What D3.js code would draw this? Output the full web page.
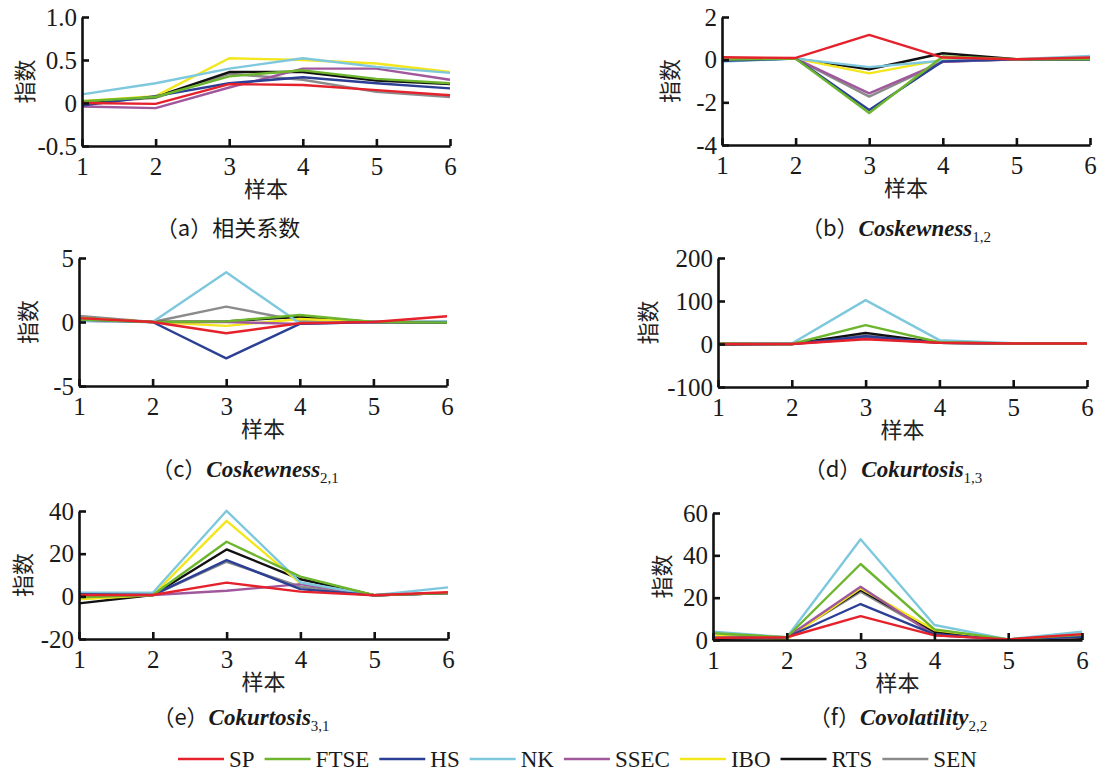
<!DOCTYPE html>
<html>
<head>
<meta charset="utf-8">
<script src="https://cdn.jsdelivr.net/npm/d3@7"></script>
<style>
body { margin: 0; background: #fff; }
svg { display: block; }
.domain { stroke: #111; stroke-width: 2.6; }
.tick line { stroke: #111; stroke-width: 2.6; }
</style>
</head>
<body>
<div id="chart"></div>
<script>
var series = ["SP", "FTSE", "HS", "NK", "SSEC", "IBO", "RTS", "SEN"];
var colors = ["#e5212b", "#6cb52d", "#2b3f95", "#7ec8de", "#a0589c", "#f3e61c", "#111111", "#8b8b8b"];
var samples = [1, 2, 3, 4, 5, 6];

// one row per series, same order as `series`
var corr = [
	[0.00, -0.01, 0.22, 0.21, 0.15, 0.09],
	[0.02, 0.07, 0.31, 0.38, 0.28, 0.23],
	[-0.03, 0.08, 0.23, 0.30, 0.23, 0.17],
	[0.10, 0.23, 0.40, 0.52, 0.42, 0.35],
	[-0.04, -0.06, 0.18, 0.40, 0.40, 0.27],
	[0.02, 0.08, 0.52, 0.50, 0.46, 0.36],
	[0.01, 0.07, 0.36, 0.36, 0.26, 0.22],
	[0.00, 0.06, 0.34, 0.27, 0.13, 0.07]
];
var cosk12 = [
	[0.11, 0.08, 1.16, 0.10, 0.02, 0.10],
	[0.00, 0.05, -2.50, 0.15, 0.02, 0.02],
	[-0.05, 0.05, -2.36, -0.08, 0.02, 0.00],
	[-0.09, 0.05, -0.35, -0.05, 0.02, 0.17],
	[-0.02, 0.05, -1.58, -0.10, 0.02, 0.00],
	[0.05, 0.05, -0.64, 0.00, 0.02, 0.05],
	[0.00, 0.05, -0.45, 0.30, 0.02, 0.00],
	[-0.03, 0.05, -1.73, -0.10, 0.02, 0.00]
];
var cosk21 = [
	[0.30, 0.00, -0.88, -0.10, 0.00, 0.45],
	[0.20, 0.00, 0.05, 0.55, 0.00, -0.05],
	[0.20, 0.00, -2.84, -0.15, 0.00, -0.05],
	[0.10, 0.00, 3.88, -0.10, 0.00, 0.05],
	[0.10, 0.00, 0.00, -0.15, 0.00, 0.00],
	[0.30, 0.00, -0.30, 0.23, 0.00, 0.00],
	[0.30, 0.00, 0.05, 0.40, 0.00, -0.05],
	[0.47, 0.00, 1.20, 0.10, 0.00, 0.00]
];
var cokurt13 = [
	[0, 0, 11, 3, 1, 1],
	[1, 0, 44, 4, 1, 1],
	[0, 0, 18, 3, 1, 1],
	[1, 1, 102, 9, 2, 1],
	[0, 0, 13, 3, 1, 1],
	[0, 0, 15, 3, 1, 1],
	[-2, 0, 26, 3, 1, 1],
	[1, 0, 21, 3, 1, 1]
];
var cokurt31 = [
	[0.6, 0.6, 6.4, 2.2, 0.5, 1.9],
	[-0.5, 0.6, 25.6, 9.2, 0.5, 1.5],
	[1.0, 0.6, 17.0, 3.4, 0.5, 1.5],
	[1.7, 1.7, 40.1, 6.5, 0.5, 4.2],
	[0.0, 0.6, 2.6, 5.7, 0.5, 1.5],
	[-1.4, 0.6, 35.4, 6.1, 0.5, 1.5],
	[-3.3, 0.6, 22.0, 8.0, 0.5, 1.5],
	[-1.0, 0.6, 16.2, 4.5, 0.5, 1.5]
];
var covol22 = [
	[1.0, 1.3, 11.3, 2.2, 0.3, 2.8],
	[3.2, 1.3, 35.9, 5.0, 0.3, 2.5],
	[1.0, 1.3, 17.0, 2.7, 0.3, 1.5],
	[3.9, 1.3, 47.6, 7.1, 0.3, 3.9],
	[1.0, 1.3, 25.2, 2.2, 0.3, 1.5],
	[2.0, 0.3, 24.4, 4.7, 0.3, 1.5],
	[0.5, 1.3, 23.6, 3.9, 0.3, 0.5],
	[1.9, 1.3, 22.8, 3.1, 0.3, 1.5]
];

var yTicksA = [-0.5, 0, 0.5, 1.0], yLabelsA = ["-0.5", "0", "0.5", "1.0"];
var yTicksB = [-4, -2, 0, 2], yLabelsB = ["-4", "-2", "0", "2"];
var yTicksC = [-5, 0, 5], yLabelsC = ["-5", "0", "5"];
var yTicksD = [-100, 0, 100, 200], yLabelsD = ["-100", "0", "100", "200"];
var yTicksE = [-20, 0, 20, 40], yLabelsE = ["-20", "0", "20", "40"];
var yTicksF = [0, 20, 40, 60], yLabelsF = ["0", "20", "40", "60"];

var tags = ["a", "b", "c", "d", "e", "f"];
var names = ["相关系数", "Coskewness", "Coskewness", "Cokurtosis", "Cokurtosis", "Covolatility"];
var subs = ["", "1,2", "2,1", "1,3", "3,1", "2,2"];

var W = 1099, H = 773;
var svg = d3.select("#chart").append("svg")
	.attr("width", W)
	.attr("height", H);

// panel boxes in pixels: left, right, top, bottom, title offset, caption centre
var panels = [
	{ data: corr, ticks: yTicksA, labels: yLabelsA, x0: 82, x1: 450, y0: 17, y1: 146, ty: 57, cx: 228, cy: 230 },
	{ data: cosk12, ticks: yTicksB, labels: yLabelsB, x0: 722, x1: 1090, y0: 17, y1: 145, ty: 52, cx: 896, cy: 230 },
	{ data: cosk21, ticks: yTicksC, labels: yLabelsC, x0: 79, x1: 447, y0: 258, y1: 386, ty: 51, cx: 245, cy: 471 },
	{ data: cokurt13, ticks: yTicksD, labels: yLabelsD, x0: 718, x1: 1087, y0: 258, y1: 387, ty: 70, cx: 893, cy: 471 },
	{ data: cokurt31, ticks: yTicksE, labels: yLabelsE, x0: 79, x1: 448, y0: 511, y1: 639, ty: 56, cx: 241, cy: 719 },
	{ data: covol22, ticks: yTicksF, labels: yLabelsF, x0: 713, x1: 1082, y0: 513, y1: 640, ty: 51, cx: 898, cy: 719 }
];

var cjk = "Noto Sans CJK SC";
var serif = "Liberation Serif, Times New Roman, Tinos, DejaVu Serif, serif";

panels.forEach(function(p, k) {
	var x = d3.scaleLinear().domain([1, 6]).range([p.x0, p.x1]);
	var y = d3.scaleLinear().domain([p.ticks[0], p.ticks[p.ticks.length - 1]]).range([p.y1, p.y0]);

	var line = d3.line()
		.x(function(d, i) { return x(samples[i]); })
		.y(function(d) { return y(d); });

	var g = svg.append("g");

	// draw SEN first so SP ends up on top, as in the figure
	var rows = p.data.map(function(d, i) { return { v: d, c: colors[i] }; }).reverse();

	g.selectAll(".series")
	.data(rows)
	.enter()
	.append("path")
	.attr("class", "series")
	.attr("d", function(d) { return line(d.v); })
	.attr("fill", "none")
	.attr("stroke", function(d) { return d.c; })
	.attr("stroke-width", 2.4)
	.attr("stroke-linejoin", "round");

	var xa = g.append("g")
	.attr("transform", "translate(0," + p.y1 + ")")
	.call(d3.axisBottom(x).tickValues(samples).tickSizeInner(-7).tickSizeOuter(0).tickPadding(11).tickFormat(d3.format("d")));

	var ya = g.append("g")
	.attr("transform", "translate(" + p.x0 + ",0)")
	.call(d3.axisLeft(y).tickValues(p.ticks).tickSizeInner(-7).tickSizeOuter(0).tickPadding(5)
		.tickFormat(function(d, i) { return p.labels[i]; }));

	[xa, ya].forEach(function(a) {
		a.attr("font-family", serif).attr("font-size", 25);
		a.selectAll("text").attr("fill", "#1a1a1a");
	});

	g.append("text")
	.attr("transform", "translate(" + (p.x0 - p.ty) + "," + ((p.y0 + p.y1) / 2) + ") rotate(-90)")
	.attr("text-anchor", "middle")
	.attr("dy", "0.35em")
	.attr("font-family", cjk)
	.attr("font-size", 22)
	.attr("fill", "#222")
	.text("指数");

	g.append("text")
	.attr("x", (p.x0 + p.x1) / 2)
	.attr("y", p.y1 + 43)
	.attr("text-anchor", "middle")
	.attr("dy", "0.35em")
	.attr("font-family", cjk)
	.attr("font-size", 22)
	.attr("fill", "#222")
	.text("样本");

	var cap = g.append("text")
		.attr("x", p.cx)
		.attr("y", p.cy)
		.attr("dy", "0.35em")
		.attr("text-anchor", "middle")
		.attr("fill", "#1a1a1a");
	cap.append("tspan")
	.attr("font-family", cjk)
	.attr("font-size", 22)
	.text("（" + tags[k] + "）");
	if (subs[k] === "") {
		cap.append("tspan")
		.attr("font-family", cjk)
		.attr("font-size", 22)
		.text(names[k]);
	} else {
		cap.append("tspan")
		.attr("font-family", serif)
		.attr("font-size", 23)
		.attr("font-style", "italic")
		.attr("font-weight", "bold")
		.text(names[k]);
		cap.append("tspan")
		.attr("dy", 6)
		.attr("font-family", serif)
		.attr("font-size", 15)
		.text(subs[k]);
	}
});

// legend along the bottom
var legend = svg.append("g").attr("transform", "translate(178,759)");
var lx = 0;
series.forEach(function(s, i) {
	legend.append("line")
	.attr("x1", lx).attr("x2", lx + 46)
	.attr("y1", 0).attr("y2", 0)
	.attr("stroke", colors[i])
	.attr("stroke-width", 2.5);
	var t = legend.append("text")
		.attr("x", lx + 51)
		.attr("y", 0)
		.attr("dy", "0.33em")
		.attr("font-family", serif)
		.attr("font-size", 23)
		.attr("fill", "#1a1a1a")
		.text(s);
	lx += 51 + t.node().getComputedTextLength() + 10;
});
</script>
</body>
</html>
